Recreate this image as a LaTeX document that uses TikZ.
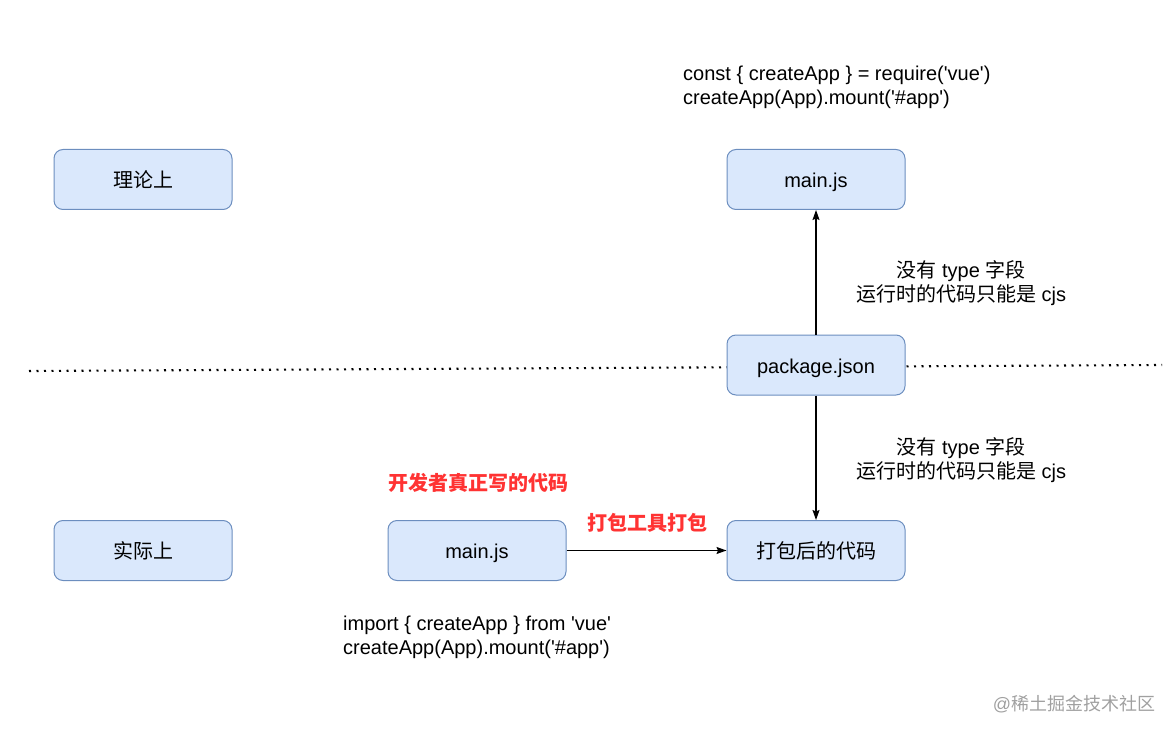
\documentclass[tikz,border=0pt]{standalone}
\usepackage{fontspec}
\setmainfont{Liberation Sans}
\newfontfamily\codefont{Liberation Sans}
\newfontfamily\cjk{Noto Sans CJK SC}
\usetikzlibrary{arrows.meta}
\definecolor{boxfill}{HTML}{DAE8FC}
\definecolor{boxline}{HTML}{6C8EBF}
\definecolor{hlred}{HTML}{FF3333}
\definecolor{wmgray}{HTML}{A0A0A0}
\begin{document}
\begin{tikzpicture}[x=1pt,y=-1pt,
  box/.style={draw=boxline, fill=boxfill, rounded corners=9pt, line width=1pt,
    minimum width=178pt, minimum height=60pt, inner sep=0pt,
    text height=20pt, text depth=4pt,
    font=\fontsize{20}{24}\selectfont},
  lbl/.style={inner sep=0pt, align=center, font=\fontsize{20}{24}\selectfont},
  code/.style={inner sep=0pt, align=left, anchor=west, font=\fontsize{20}{24}\codefont},
  redlbl/.style={inner sep=0pt, text=hlred, font=\fontsize{20}{24}\selectfont\bfseries},
  conn/.style={line width=1.2pt, -{Stealth[length=10pt,width=7pt,inset=1.5pt]}},
  sep/.style={line width=2.1pt, dash pattern=on 2pt off 5.5pt}
]
\useasboundingbox (0,0) rectangle (1174,735);
\coordinate (sepL) at (29,371);
\coordinate (sepR) at (1162,365);
\draw[sep] (sepL) -- (sepR);

\node[box] (theory) at (143,179.5) {\cjk 理论上};
\node[box] (mainTop) at (816,179.5) {main.js};
\node[box] (pkg) at (816,365) {package.json};
\node[box] (actual) at (143,550.5) {\cjk 实际上};
\node[box] (mainBot) at (477,550.5) {main.js};
\node[box] (bundled) at (816,550.5) {\cjk 打包后的代码};

\node[code] (codeTop) at (683,87) {const \{ createApp \} = require('vue')\\createApp(App).mount('\#app')};
\node[code] (codeBot) at (343,637) {import \{ createApp \} from 'vue'\\createApp(App).mount('\#app')};

\node[lbl] (noteUp) at (961,283) {{\cjk 没有} type {\cjk 字段}\\{\cjk 运行时的代码只能是} cjs};
\node[lbl] (noteDown) at (961,460) {{\cjk 没有} type {\cjk 字段}\\{\cjk 运行时的代码只能是} cjs};

\node[redlbl] (devNote) at (478,483) {\cjk 开发者真正写的代码};
\node[redlbl] (packNote) at (647,523) {\cjk 打包工具打包};

\node[inner sep=0pt, text=wmgray, font=\fontsize{18}{22}\selectfont] (wm) at (1074,704) {@{\cjk 稀土掘金技术社区}};

\draw[conn] (pkg.north) -- (mainTop.south);
\draw[conn] (pkg.south) -- (bundled.north);
\draw[conn] (mainBot.east) -- (bundled.west);
\end{tikzpicture}
\end{document}
